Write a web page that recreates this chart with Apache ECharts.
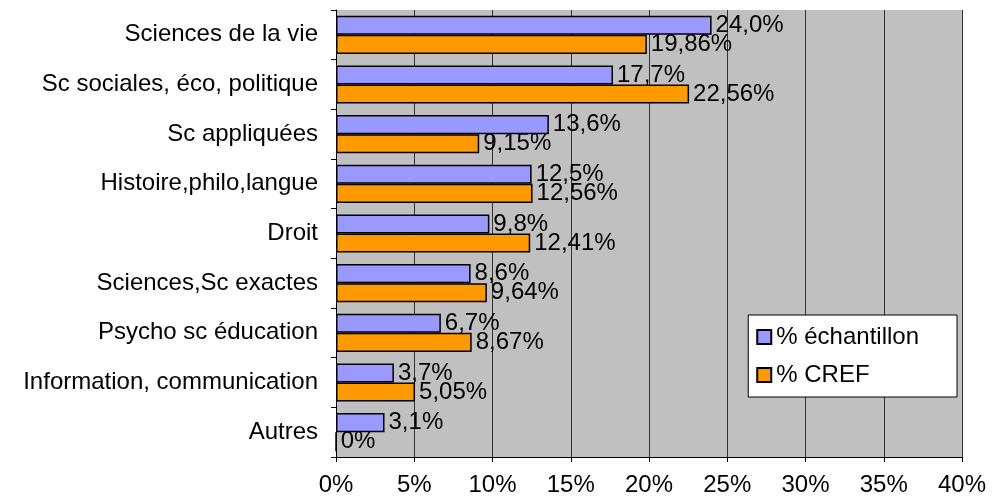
<!DOCTYPE html>
<html>
<head>
<meta charset="utf-8">
<script src="https://cdn.jsdelivr.net/npm/echarts@6/dist/echarts.min.js"></script>
<style>
  html, body { margin: 0; padding: 0; background: #fff; }
  #chart { width: 1001px; height: 499px; }
</style>
</head>
<body>
<div id="chart"></div>
<script>
  var categories = ['Sciences de la vie', 'Sc sociales, éco, politique', 'Sc appliquées',
    'Histoire,philo,langue', 'Droit', 'Sciences,Sc exactes', 'Psycho sc éducation',
    'Information, communication', 'Autres'];
  var echantillon = [24.0, 17.7, 13.6, 12.5, 9.8, 8.6, 6.7, 3.7, 3.1];
  var cref = [19.86, 22.56, 9.15, 12.56, 12.41, 9.64, 8.67, 5.05, 0];
  var xTicks = [0, 5, 10, 15, 20, 25, 30, 35, 40];

  var font = 'Liberation Sans, Arial, sans-serif';
  var fs = 24;

  function fmt(v, d) {
    if (v === 0) return '0%';
    return v.toFixed(d).replace('.', ',') + '%';
  }

  var chart = echarts.init(document.getElementById('chart'));
  chart.setOption({
    backgroundColor: '#FFFFFF',
    animation: false,
    grid: {
      left: 336, right: 39, top: 10, bottom: 42,
      show: true,
      backgroundColor: '#C0C0C0',
      borderWidth: 0
    },
    legend: {
      orient: 'vertical',
      right: 44, top: 315,
      backgroundColor: '#FFFFFF',
      borderColor: '#000000',
      borderWidth: 1,
      padding: [10, 38, 10, 8],
      itemWidth: 14, itemHeight: 14,
      itemGap: 14,
      icon: 'rect',
      textStyle: { fontFamily: font, fontSize: fs, color: '#000' },
      data: ['% échantillon', '% CREF']
    },
    xAxis: {
      type: 'value',
      min: xTicks[0], max: xTicks[xTicks.length - 1], interval: 5,
      axisLine: { show: true, lineStyle: { color: '#000', width: 1 } },
      axisTick: { show: true, length: 5, lineStyle: { color: '#000' } },
      axisLabel: {
        margin: 16,
        fontFamily: font, fontSize: fs, color: '#000',
        formatter: function (v) { return v + '%'; }
      },
      splitLine: { show: true, lineStyle: { color: '#333', width: 1 } }
    },
    yAxis: {
      type: 'category',
      inverse: true,
      data: categories,
      axisLine: { show: true, lineStyle: { color: '#000', width: 1 } },
      axisTick: { show: true, length: 5, lineStyle: { color: '#000' } },
      axisLabel: { margin: 18, fontFamily: font, fontSize: fs, color: '#000' }
    },
    series: [
      {
        name: '% échantillon',
        type: 'bar',
        data: echantillon,
        barGap: '0%',
        barCategoryGap: '23%',
        itemStyle: { color: '#9999FF', borderColor: '#000', borderWidth: 1.5 },
        label: {
          show: true, position: 'right', distance: 4,
          fontFamily: font, fontSize: fs, color: '#000',
          formatter: function (p) { return fmt(p.value, 1); }
        }
      },
      {
        name: '% CREF',
        type: 'bar',
        data: cref,
        barGap: '0%',
        barCategoryGap: '23%',
        itemStyle: { color: '#FF9900', borderColor: '#000', borderWidth: 1.5 },
        label: {
          show: true, position: 'right', distance: 4,
          fontFamily: font, fontSize: fs, color: '#000',
          formatter: function (p) { return fmt(p.value, 2); }
        }
      }
    ]
  });
</script>
</body>
</html>
